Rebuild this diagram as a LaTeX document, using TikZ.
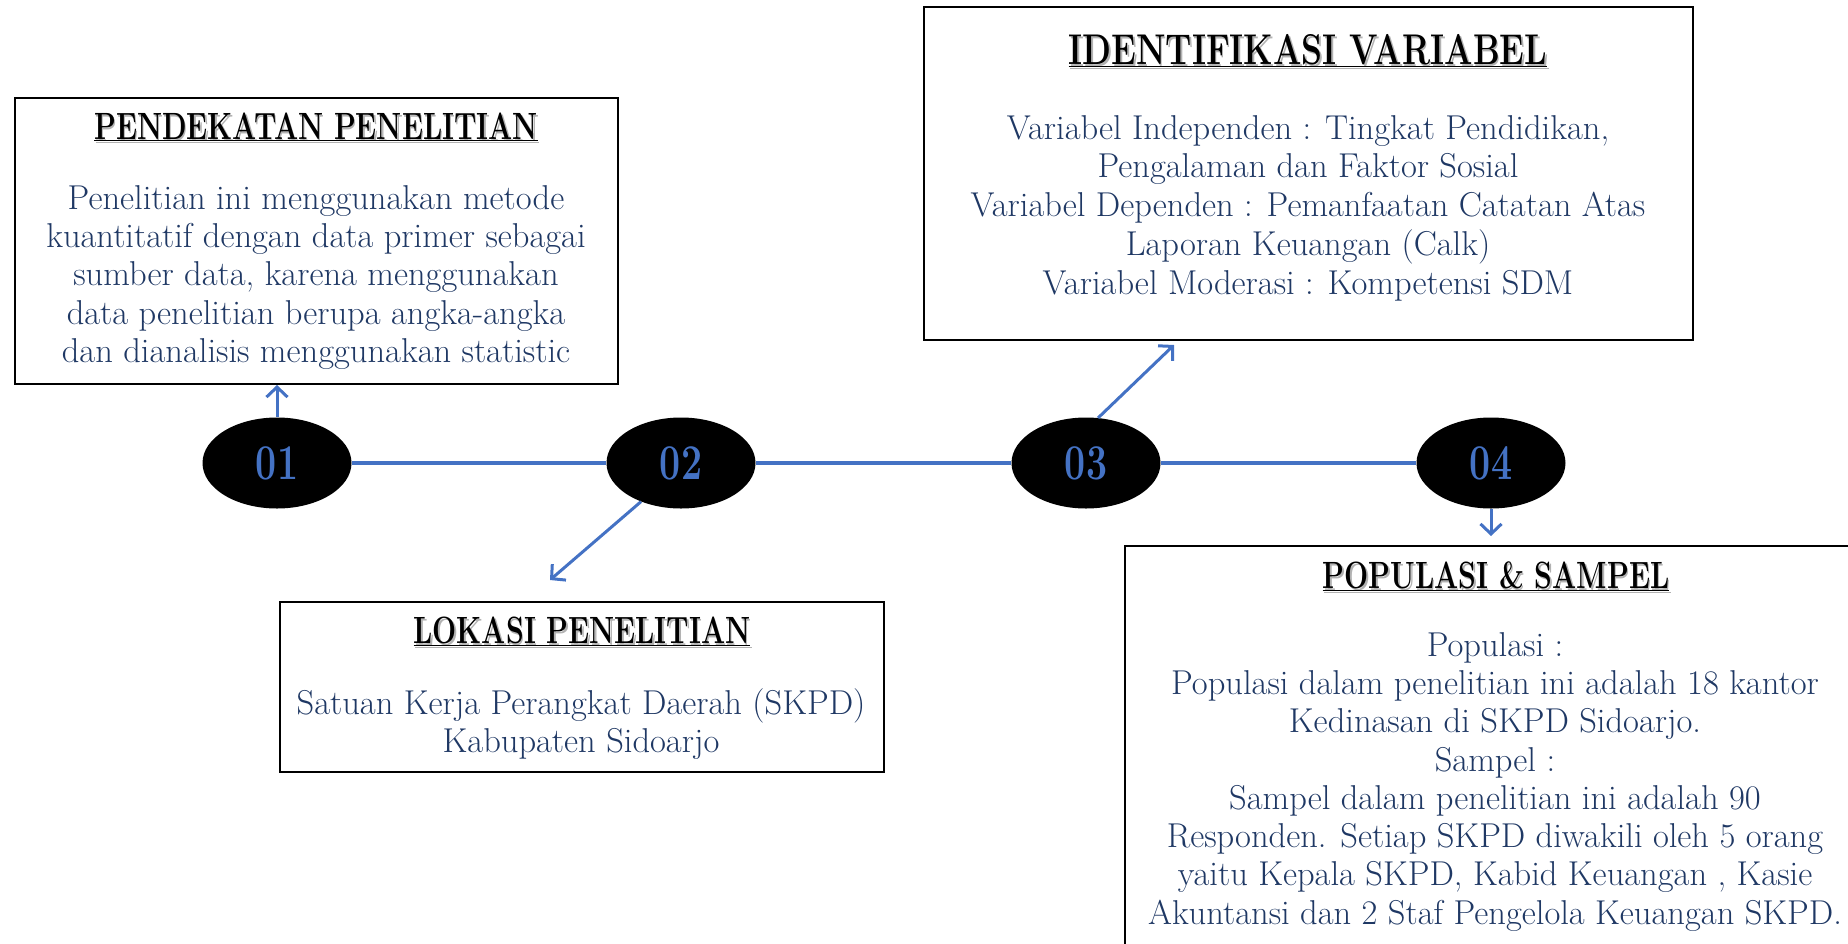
\documentclass[tikz,border=0pt]{standalone}
\usepackage{graphicx}
\usetikzlibrary{arrows.meta,shapes.geometric}
\definecolor{garis}{HTML}{4472C4}
\definecolor{tulisan}{HTML}{1F3864}
\newcommand{\judul}[2][0.75]{\scalebox{#1}[1]{\rlap{\kern2pt\raisebox{-2pt}{\color{black!30}\underline{#2}}}\underline{#2}}}
\newcommand{\nomor}[1]{\scalebox{0.75}[1]{#1}}
\begin{document}
\begin{tikzpicture}[x=1pt,y=-1pt,
  kotak/.style={draw=black, line width=2pt, rectangle, anchor=north west, inner sep=0},
  bulat/.style={ellipse, fill=black, minimum width=149pt, minimum height=91pt, inner sep=0, text=garis, font=\fontsize{50}{54}\selectfont\bfseries},
  isi/.style={align=center, text=tulisan, font=\fontsize{34.5}{38.3}\selectfont, inner sep=0, anchor=north},
  kepala/.style={font=\fontsize{38}{40}\selectfont\bfseries, inner sep=0, anchor=base},
  garisan/.style={draw=garis, line width=4pt},
  panah/.style={draw=garis, line width=3pt, -{Straight Barb[length=10pt,width=21pt]}}]
\useasboundingbox (0,0) rectangle (1848,943);
\node[kotak, minimum width=603pt, minimum height=286pt] (b1) at (14,97) {};
\node[kotak, minimum width=604pt, minimum height=170pt] (b2) at (279,601) {};
\node[kotak, minimum width=769pt, minimum height=333pt] (b3) at (923,6) {};
\node[kotak, minimum width=742pt, minimum height=450pt] (b4) at (1124,545) {};
\node[kepala] (h1) at (316,139) {\judul{PENDEKATAN PENELITIAN}};
\node[kepala] (h2) at (582,643) {\judul{LOKASI PENELITIAN}};
\node[kepala, font=\fontsize{43}{45}\selectfont\bfseries] (h3) at (1308,64) {\judul[0.78]{IDENTIFIKASI VARIABEL}};
\node[kepala] (h4) at (1496,588) {\judul{POPULASI \& SAMPEL}};
\node[isi] (t1) at (316,185) {Penelitian ini menggunakan metode\\kuantitatif dengan data primer sebagai\\sumber data, karena menggunakan\\data penelitian berupa angka-angka\\dan dianalisis menggunakan statistic};
\node[isi] (t2) at (581,688) {Satuan Kerja Perangkat Daerah (SKPD)\\Kabupaten Sidoarjo};
\node[isi, font=\fontsize{34.5}{38.8}\selectfont] (t3) at (1308,115) {Variabel Independen : Tingkat Pendidikan,\\Pengalaman dan Faktor Sosial\\Variabel Dependen : Pemanfaatan Catatan Atas\\Laporan Keuangan (Calk)\\Variabel Moderasi : Kompetensi SDM};
\node[isi] (t4) at (1495,632) {Populasi :\\Populasi dalam penelitian ini adalah 18 kantor\\Kedinasan di SKPD Sidoarjo.\\Sampel :\\Sampel dalam penelitian ini adalah 90\\Responden. Setiap SKPD diwakili oleh 5 orang\\yaitu Kepala SKPD, Kabid Keuangan , Kasie\\Akuntansi dan 2 Staf Pengelola Keuangan SKPD.};
\node[bulat] (e1) at (277,463) {\nomor{01}};
\node[bulat] (e2) at (681,463) {\nomor{02}};
\node[bulat] (e3) at (1086,463) {\nomor{03}};
\node[bulat] (e4) at (1491,463) {\nomor{04}};
\draw[garisan] (e1) -- (e2);
\draw[garisan] (e2) -- (e3);
\draw[garisan] (e3) -- (e4);
\coordinate (u2) at (550,580);
\coordinate (u3) at (1174,345);
\coordinate (u4) at (1491,536);
\draw[panah] (e1.north) -- (e1.north |- b1.south);
\draw[panah] (e2.224) -- (u2);
\draw[panah] (e3.75) -- (u3);
\draw[panah] (e4.south) -- (u4);
\end{tikzpicture}
\end{document}
